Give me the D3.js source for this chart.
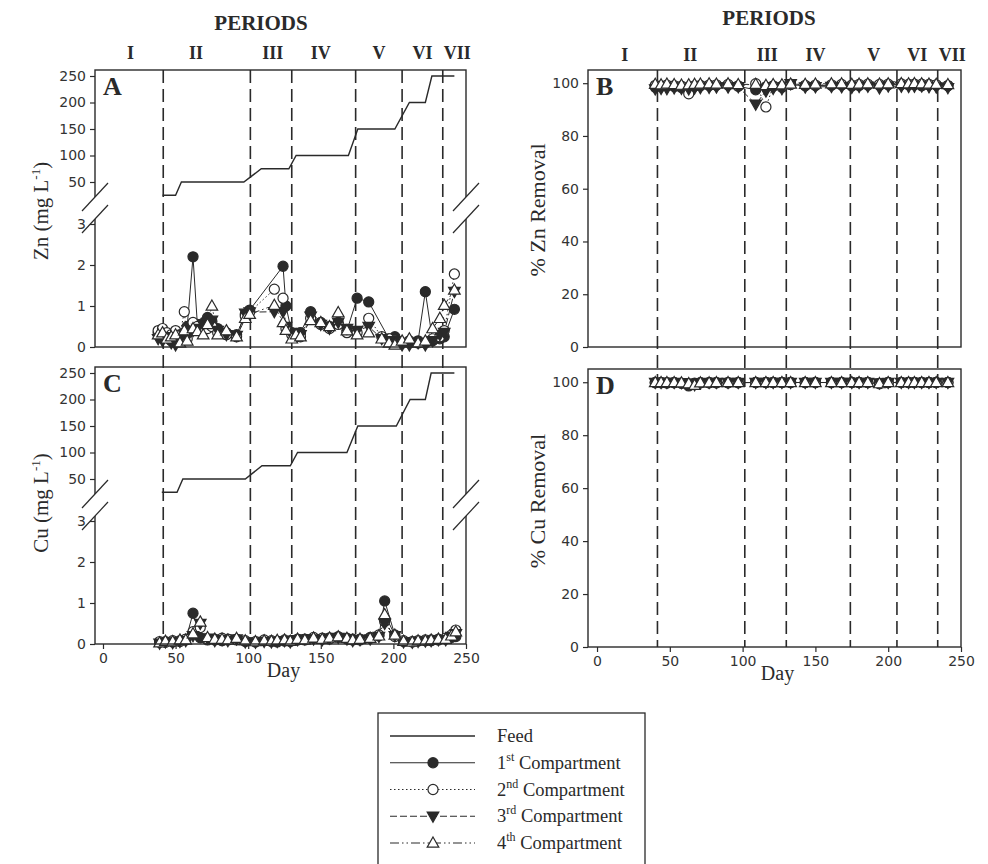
<!DOCTYPE html>
<html>
<head>
<meta charset="utf-8">
<script src="https://cdn.jsdelivr.net/npm/d3@7"></script>
<style>
  body { margin: 0; background: #fff; }
</style>
</head>
<body>
<svg id="fig" width="988" height="864"></svg>
<script>
// ---------------- data ----------------
// Zn concentrations (mg/L) in the four compartments
const znDays = [38, 41, 44, 47, 50, 53, 56, 58, 62, 65, 69, 72, 75, 79, 85, 92, 98, 101, 118, 124, 126, 130, 133, 136, 143, 150, 156, 162, 168, 175, 183, 192, 197, 201, 206, 211, 217, 222, 227, 232, 235, 242];
const zn1 = [0.35, 0.25, 0.30, 0.15, 0.20, 0.30, 0.35, 0.50, 2.20, 0.55, 0.58, 0.72, 0.62, 0.45, 0.35, 0.30, 0.80, 0.90, null, 1.97, 1.00, 0.35, 0.30, 0.35, 0.86, 0.60, 0.50, 0.60, 0.40, 1.19, 1.10, null, 0.20, 0.25, 0.10, 0.10, 0.15, 1.35, 0.15, 0.20, 0.25, 0.92];
const zn2 = [0.40, 0.45, 0.35, 0.30, 0.40, 0.30, 0.86, 0.20, 0.60, 0.50, 0.40, 0.45, 0.50, 0.35, 0.30, 0.25, 0.75, 0.85, 1.41, 1.19, 0.45, 0.30, 0.25, 0.25, 0.70, 0.55, 0.45, 0.55, 0.35, 0.35, 0.70, 0.25, 0.20, 0.15, 0.10, 0.15, 0.10, 0.10, 0.20, 0.25, 0.40, 1.78];
const zn3 = [0.20, 0.15, 0.25, 0.10, 0.05, 0.20, 0.30, 0.25, 0.40, 0.45, 0.55, 0.60, 0.65, 0.40, 0.30, 0.28, 0.82, 0.85, 0.86, 0.86, 0.50, 0.30, 0.35, 0.30, 0.75, 0.55, 0.45, 0.60, 0.45, 0.40, 0.50, 0.20, 0.15, 0.15, 0.05, 0.05, 0.10, 0.05, 0.15, 0.30, 0.35, 1.35];
const zn4 = [0.30, 0.35, 0.20, 0.25, 0.30, 0.10, 0.40, 0.15, 0.45, 0.38, 0.30, 0.55, 1.00, 0.30, 0.40, 0.25, 0.70, 0.80, 1.02, 0.60, 0.41, 0.20, 0.30, 0.25, 0.65, 0.60, 0.50, 0.84, 0.40, 0.30, 0.35, 0.20, 0.10, 0.05, 0.15, 0.20, 0.10, 0.15, 0.45, 0.70, 1.02, 1.39];

// Cu concentrations (mg/L) in the four compartments
const cuDays = [39, 43, 48, 53, 57, 62, 67, 72, 77, 82, 86, 92, 98, 105, 111, 116, 120, 125, 129, 134, 139, 145, 151, 156, 162, 168, 172, 177, 184, 190, 194, 201, 207, 213, 217, 222, 226, 231, 236, 240, 243];
const cu1 = [0.04, 0.06, 0.05, 0.08, 0.10, 0.75, 0.15, 0.10, 0.12, 0.08, 0.10, 0.12, 0.06, 0.05, 0.08, 0.06, 0.05, 0.07, 0.08, 0.10, 0.12, 0.14, 0.12, 0.15, 0.18, 0.14, 0.10, 0.12, 0.16, 0.20, 1.05, 0.22, 0.06, 0.05, 0.07, 0.08, 0.10, 0.10, 0.12, 0.16, 0.18];
const cu2 = [0.06, 0.04, 0.08, 0.06, 0.12, 0.30, 0.40, 0.12, 0.10, 0.14, 0.12, 0.10, 0.08, 0.06, 0.10, 0.08, 0.07, 0.10, 0.06, 0.12, 0.10, 0.16, 0.14, 0.12, 0.16, 0.12, 0.12, 0.10, 0.14, 0.22, 0.55, 0.18, 0.08, 0.06, 0.08, 0.10, 0.08, 0.12, 0.14, 0.22, 0.34];
const cu3 = [0.02, 0.05, 0.03, 0.06, 0.08, 0.20, 0.50, 0.14, 0.08, 0.10, 0.08, 0.12, 0.05, 0.04, 0.06, 0.05, 0.06, 0.08, 0.05, 0.10, 0.12, 0.12, 0.10, 0.14, 0.16, 0.12, 0.08, 0.10, 0.12, 0.18, 0.50, 0.20, 0.05, 0.04, 0.06, 0.07, 0.08, 0.10, 0.10, 0.18, 0.25];
const cu4 = [0.03, 0.07, 0.06, 0.10, 0.10, 0.25, 0.54, 0.16, 0.12, 0.12, 0.10, 0.14, 0.08, 0.06, 0.08, 0.07, 0.09, 0.10, 0.07, 0.12, 0.10, 0.15, 0.12, 0.15, 0.18, 0.14, 0.10, 0.12, 0.14, 0.20, 0.72, 0.22, 0.07, 0.05, 0.08, 0.08, 0.10, 0.12, 0.12, 0.20, 0.30];

// Feed concentrations (mg/L), stepped through the periods
const znFeedDays = [41, 50, 54, 97, 109, 128, 133, 169, 175.5, 201, 211, 222, 226.5, 242];
const cuFeedDays = [40.5, 51, 55, 98, 109.5, 129, 134, 168, 175.5, 202, 211.5, 222, 226, 242];
const feedConc = [25, 25, 50, 50, 75, 75, 100, 100, 150, 150, 200, 200, 250, 250];

// Removal efficiencies (%)
const removalDays = [40, 44, 48, 53, 58, 63, 67, 71, 77, 82, 90, 97, 109, 116, 121, 127, 133, 143, 150, 161, 168, 175, 180, 186, 194, 200, 209, 214, 218, 223, 228, 233, 241];
const znRem1 = [98.5, 98.8, 99.0, 98.7, 98.4, 98.6, 98.9, 99.0, 99.1, 99.2, 99.3, 98.8, 97.5, 98.6, 99.0, 98.8, 99.5, 99.0, 99.1, 99.2, 99.3, 98.9, 99.1, 99.3, 99.2, 99.4, 99.5, 99.4, 99.5, 99.0, 99.4, 99.3, 99.1];
const znRem2 = [99.2, 99.0, 99.3, 99.1, 98.9, 96.0, 99.0, 99.2, 99.3, 99.4, 99.5, 99.0, 99.8, 91.0, 98.8, 98.5, 99.6, 99.2, 99.3, 99.4, 99.5, 99.3, 99.5, 99.6, 99.5, 99.6, 99.7, 99.5, 99.6, 99.6, 99.5, 99.4, 99.0];
const znRem3 = [97.8, 98.0, 97.9, 98.2, 98.0, 97.8, 98.1, 98.3, 98.4, 98.5, 98.5, 98.6, 92.0, 97.0, 98.0, 97.9, 99.8, 98.5, 98.6, 98.7, 98.6, 98.4, 98.7, 98.8, 98.2, 98.9, 98.8, 98.7, 98.8, 98.9, 98.6, 98.5, 98.3];
const znRem4 = [99.6, 99.4, 99.7, 99.5, 99.3, 99.4, 99.6, 99.7, 99.8, 99.7, 99.8, 99.5, 99.6, 99.2, 99.5, 99.4, 99.7, 99.6, 99.7, 99.8, 99.8, 99.6, 99.7, 99.8, 99.7, 99.8, 99.9, 99.8, 99.9, 99.8, 99.7, 99.6, 99.5];
const cuRem1 = [99.8, 99.8, 99.7, 99.8, 99.6, 98.6, 99.7, 99.8, 99.8, 99.8, 99.8, 99.8, 99.9, 99.9, 99.9, 99.9, 99.9, 99.9, 99.9, 99.9, 99.9, 99.9, 99.9, 99.9, 99.4, 99.9, 99.9, 99.9, 99.9, 99.9, 99.9, 99.9, 99.9];
const cuRem2 = [99.9, 99.9, 99.8, 99.9, 99.7, 99.4, 99.2, 99.8, 99.8, 99.8, 99.8, 99.9, 99.9, 99.9, 99.9, 99.9, 99.9, 99.9, 99.9, 99.9, 99.9, 99.9, 99.9, 99.9, 99.6, 99.9, 99.9, 99.9, 99.9, 99.9, 99.9, 99.9, 99.9];
const cuRem3 = [99.9, 99.9, 99.9, 99.9, 99.8, 99.6, 99.0, 99.8, 99.9, 99.9, 99.9, 99.9, 99.9, 99.9, 99.9, 99.9, 99.9, 99.9, 99.9, 99.9, 99.9, 99.9, 99.9, 99.9, 99.7, 99.9, 99.9, 99.9, 99.9, 99.9, 99.9, 99.9, 99.9];
const cuRem4 = [99.9, 99.9, 99.9, 99.9, 99.8, 99.5, 98.9, 99.8, 99.8, 99.9, 99.9, 99.9, 99.9, 99.9, 99.9, 99.9, 99.9, 99.9, 99.9, 99.9, 99.9, 99.9, 99.9, 99.9, 99.5, 99.9, 99.9, 99.9, 99.9, 99.9, 99.9, 99.9, 99.9];

// Operating periods
const periodBounds = [41.5, 101.5, 130, 174, 206, 234];
const periodNames = ['I', 'II', 'III', 'IV', 'V', 'VI', 'VII'];
const periodLabelDays = [19, 64, 117, 150, 190, 220, 244];

const dayTicks = [0, 50, 100, 150, 200, 250];
const concHighTicks = [50, 100, 150, 200, 250];
const concLowTicks = [0, 1, 2, 3];
const removalTicks = [0, 20, 40, 60, 80, 100];

// ---------------- drawing ----------------
const svg = d3.select('#fig');
const serif = "'Liberation Serif', 'Times New Roman', serif";
const sans = "'DejaVu Sans', 'Liberation Sans', sans-serif";
const ink = '#2a2a2a';

const seriesStyles = [
  { dash: null, shape: 'circle', fill: ink },
  { dash: '1.5,2.5', shape: 'circle', fill: '#fff' },
  { dash: '7,3', shape: 'down', fill: ink },
  { dash: '9,3,1.5,3,1.5,3', shape: 'up', fill: '#fff' }
];
const shapePath = {
  circle: d3.symbol(d3.symbolCircle, 80)(),
  up: 'M0,-6L5.8,4.2L-5.8,4.2Z',
  down: 'M0,6L5.8,-4.2L-5.8,-4.2Z'
};

const leftCol = { x0: 95, x1: 466, dom: [-5.5, 250] };
const rightCol = { x0: 588, x1: 961, dom: [-6.2, 250] };

const panels = [
  { letter: 'A', col: leftCol, y0: 70, y1: 347, broken: true, days: znDays, series: [zn1, zn2, zn3, zn4], feedDays: znFeedDays, xAxis: false },
  { letter: 'C', col: leftCol, y0: 367, y1: 644, broken: true, days: cuDays, series: [cu1, cu2, cu3, cu4], feedDays: cuFeedDays, xAxis: true },
  { letter: 'B', col: rightCol, y0: 70, y1: 347, broken: false, days: removalDays, series: [znRem1, znRem2, znRem3, znRem4], xAxis: false },
  { letter: 'D', col: rightCol, y0: 369, y1: 647, broken: false, days: removalDays, series: [cuRem1, cuRem2, cuRem3, cuRem4], xAxis: true }
];

// period boundaries run down each column through both panels
[[leftCol, 70, 644], [rightCol, 70, 647]].forEach(([col, top, bottom]) => {
  const x = d3.scaleLinear().domain(col.dom).range([col.x0, col.x1]);
  svg.append('g').selectAll('line').data(periodBounds).join('line')
    .attr('x1', d => x(d)).attr('x2', d => x(d))
    .attr('y1', top).attr('y2', bottom)
    .attr('stroke', ink).attr('stroke-width', 1.6)
    .attr('stroke-dasharray', '13,6');
  svg.append('g').selectAll('text').data(periodNames).join('text')
    .attr('x', (d, i) => x(periodLabelDays[i]))
    .attr('y', col === leftCol ? 59 : 61)
    .attr('text-anchor', 'middle')
    .attr('font-family', serif).attr('font-weight', 'bold').attr('font-size', 18)
    .attr('fill', ink).text(d => d);
  svg.append('text')
    .attr('x', col === leftCol ? 261 : 769).attr('y', col === leftCol ? 30 : 25)
    .attr('text-anchor', 'middle')
    .attr('font-family', serif).attr('font-weight', 'bold').attr('font-size', 21)
    .attr('fill', ink).text('PERIODS');
});

panels.forEach(p => {
  const g = svg.append('g');
  const x = d3.scaleLinear().domain(p.col.dom).range([p.col.x0, p.col.x1]);
  let y, axes = [];
  if (p.broken) {
    const yHigh = d3.scaleLinear().domain([50, 250]).range([p.y0 + 112, p.y0 + 6]);
    const yLow = d3.scaleLinear().domain([0, 3]).range([p.y1, p.y1 - 123]);
    y = v => (v > 10 ? yHigh(v) : yLow(v));
    axes = [[yHigh, concHighTicks], [yLow, concLowTicks]];
  } else {
    const yr = d3.scaleLinear().domain([0, 105]).range([p.y1, p.y0]);
    y = yr;
    axes = [[yr, removalTicks]];
  }

  // feed line
  if (p.feedDays) {
    const feedPts = p.feedDays.map((d, i) => ({ day: d, v: feedConc[i] }));
    g.append('path')
      .attr('d', d3.line().x(d => x(d.day)).y(d => y(d.v))(feedPts))
      .attr('fill', 'none').attr('stroke', ink).attr('stroke-width', 1.4);
  }

  // compartment lines
  p.series.forEach((vals, si) => {
    const pts = p.days.map((d, i) => ({ day: d, v: vals[i] })).filter(d => d.v != null);
    const st = seriesStyles[si];
    g.append('path')
      .attr('d', d3.line().x(d => x(d.day)).y(d => y(d.v))(pts))
      .attr('fill', 'none').attr('stroke', ink).attr('stroke-width', 1)
      .attr('stroke-dasharray', st.dash);
  });
  // compartment markers
  p.series.forEach((vals, si) => {
    const pts = p.days.map((d, i) => ({ day: d, v: vals[i] })).filter(d => d.v != null);
    const st = seriesStyles[si];
    g.append('g').selectAll('path').data(pts).join('path')
      .attr('d', shapePath[st.shape])
      .attr('transform', d => `translate(${x(d.day)},${y(d.v)})`)
      .attr('fill', st.fill).attr('stroke', ink).attr('stroke-width', 1.2);
  });

  // frame
  g.append('rect')
    .attr('x', p.col.x0).attr('y', p.y0)
    .attr('width', p.col.x1 - p.col.x0).attr('height', p.y1 - p.y0)
    .attr('fill', 'none').attr('stroke', ink).attr('stroke-width', 1.4);

  // axis break marks on both vertical edges
  if (p.broken) {
    const yc1 = p.y0 + 127, yc2 = p.y0 + 149, dx = 13, dy = 14;
    [p.col.x0, p.col.x1].forEach(ex => {
      g.append('path')
        .attr('d', `M${ex - dx},${yc1 + dy}L${ex + dx},${yc1 - dy}L${ex + dx},${yc2 - dy}L${ex - dx},${yc2 + dy}Z`)
        .attr('fill', '#fff').attr('stroke', 'none');
      [yc1, yc2].forEach(yc => {
        g.append('line')
          .attr('x1', ex - dx).attr('y1', yc + dy).attr('x2', ex + dx).attr('y2', yc - dy)
          .attr('stroke', ink).attr('stroke-width', 1.2);
      });
    });
  }

  // y axes
  axes.forEach(([scale, ticks]) => {
    const ax = g.append('g').attr('transform', `translate(${p.col.x0},0)`)
      .call(d3.axisLeft(scale).tickValues(ticks).tickFormat(d3.format('d')).tickSize(5).tickPadding(4));
    ax.select('.domain').remove();
    ax.selectAll('line').attr('stroke', ink).attr('stroke-width', 1.2);
    ax.selectAll('text').attr('font-family', sans).attr('font-size', 14).attr('fill', '#333');
  });

  // x axis
  if (p.xAxis) {
    const ax = g.append('g').attr('transform', `translate(0,${p.y1})`)
      .call(d3.axisBottom(x).tickValues(dayTicks).tickFormat(d3.format('d')).tickSize(5).tickPadding(4));
    ax.select('.domain').remove();
    ax.selectAll('line').attr('stroke', ink).attr('stroke-width', 1.2);
    ax.selectAll('text').attr('font-family', sans).attr('font-size', 14).attr('fill', '#333');
    g.append('text')
      .attr('x', (p.col.x0 + p.col.x1) / 2 + 3).attr('y', p.y1 + 33)
      .attr('text-anchor', 'middle')
      .attr('font-family', serif).attr('font-size', 20).attr('fill', ink).text('Day');
  }

  // panel letter
  g.append('text')
    .attr('x', p.col.x0 + 8).attr('y', p.y0 + 25)
    .attr('font-family', serif).attr('font-weight', 'bold').attr('font-size', 26)
    .attr('fill', ink).text(p.letter);
});

// y-axis titles
function concTitle(metal, cx, cy) {
  const t = svg.append('text')
    .attr('transform', `translate(${cx},${cy}) rotate(-90)`)
    .attr('text-anchor', 'middle')
    .attr('font-family', serif).attr('font-size', 21).attr('fill', ink);
  t.append('tspan').text(`${metal} (mg L`);
  t.append('tspan').attr('dy', -8).attr('font-size', 13).text('-1');
  t.append('tspan').attr('dy', 8).text(')');
}
concTitle('Zn', 48, 211);
concTitle('Cu', 48, 503);
[['% Zn Removal', 210], ['% Cu Removal', 501]].forEach(([label, cy]) => {
  svg.append('text')
    .attr('transform', `translate(545,${cy}) rotate(-90)`)
    .attr('text-anchor', 'middle')
    .attr('font-family', serif).attr('font-size', 22).attr('fill', ink).text(label);
});

// legend
const legendItems = [
  { base: 'Feed', sup: null, rest: null, style: null },
  { base: '1', sup: 'st', rest: ' Compartment', style: seriesStyles[0] },
  { base: '2', sup: 'nd', rest: ' Compartment', style: seriesStyles[1] },
  { base: '3', sup: 'rd', rest: ' Compartment', style: seriesStyles[2] },
  { base: '4', sup: 'th', rest: ' Compartment', style: seriesStyles[3] }
];
const lg = svg.append('g');
lg.append('rect').attr('x', 378).attr('y', 713).attr('width', 267).attr('height', 170)
  .attr('fill', '#fff').attr('stroke', ink).attr('stroke-width', 1.3);
const rowY = d3.scalePoint().domain(d3.range(legendItems.length)).range([736, 843]);
legendItems.forEach((it, i) => {
  const yy = rowY(i);
  lg.append('line').attr('x1', 390).attr('x2', 475).attr('y1', yy).attr('y2', yy)
    .attr('stroke', ink).attr('stroke-width', it.style ? 1.1 : 1.4)
    .attr('stroke-dasharray', it.style ? it.style.dash : null);
  if (it.style) {
    lg.append('path').attr('d', shapePath[it.style.shape])
      .attr('transform', `translate(433,${yy})`)
      .attr('fill', it.style.fill).attr('stroke', ink).attr('stroke-width', 1.2);
  }
  const t = lg.append('text').attr('x', 497).attr('y', yy + 6)
    .attr('font-family', serif).attr('font-size', 18.5).attr('fill', ink);
  t.append('tspan').text(it.base);
  if (it.sup) {
    t.append('tspan').attr('dy', -8).attr('font-size', 12).text(it.sup);
    t.append('tspan').attr('dy', 8).text(it.rest);
  }
});
</script>
</body>
</html>
